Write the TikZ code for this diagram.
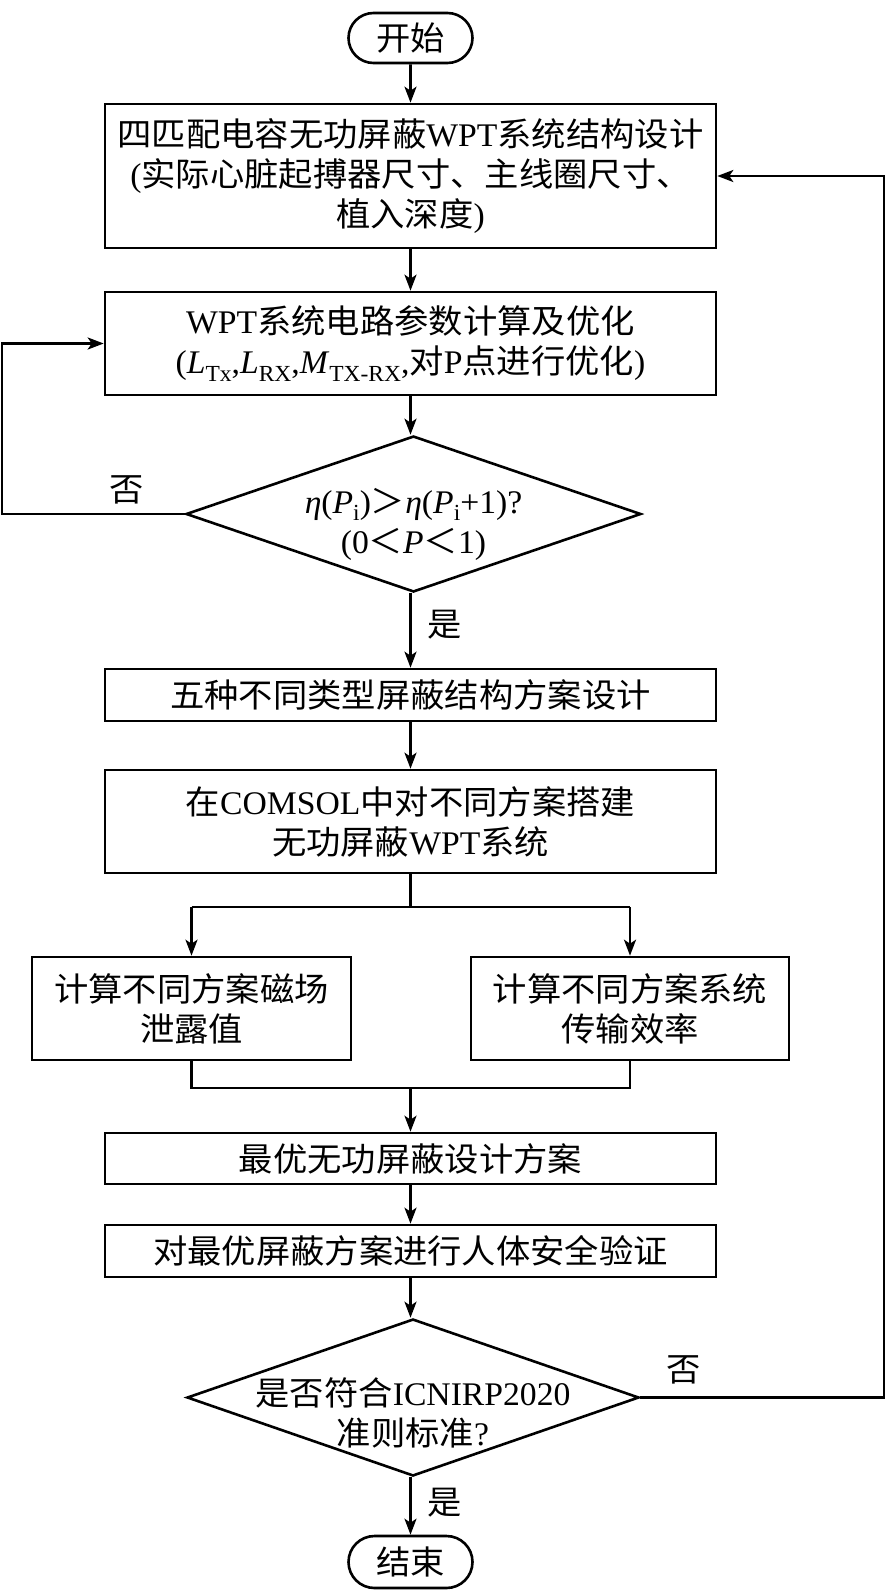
\documentclass[tikz,border=0pt]{standalone}
\usepackage{fontspec}
\setmainfont[FakeStretch=1.02]{Liberation Serif}
\newfontfamily\cjk[FakeStretch=1.04]{Noto Sans CJK SC}
\usetikzlibrary{shapes.geometric,shapes.misc,arrows.meta}
\newcommand\zh[1]{{\cjk #1}}
\newcommand\sbs[1]{\raisebox{-0.22em}{\fontsize{23}{23}\selectfont #1}}
\begin{document}
\begin{tikzpicture}[x=1pt,y=-1pt,
  every node/.style={font=\fontsize{33}{40}\selectfont, inner sep=0pt},
  proc/.style={draw, line width=2.6pt, rectangle, align=center, minimum width=611pt},
  term/.style={draw, line width=2.6pt, rounded rectangle, minimum width=124pt, minimum height=50pt},
  decis/.style={draw, line width=2.6pt, diamond, inner sep=0pt},
  lbl/.style={align=center},
  conn/.style={line width=2.6pt, -{Stealth[length=16pt,width=12pt,inset=4pt]}},
  plain/.style={line width=2.6pt}
]
\useasboundingbox (0,0) rectangle (887,1595);

\node[term] (start) at (410.5,38) {\zh{开始}};
\node[proc, minimum height=144pt] (b1) at (410.5,176)
  {\zh{四匹配电容无功屏蔽}WPT\zh{系统结构设计}\\(\zh{实际心脏起搏器尺寸、主线圈尺寸、}\\\zh{植入深度})};
\node[proc, minimum height=103pt] (b2) at (410.5,343.5)
  {WPT\zh{系统电路参数计算及优化}\\(\textit{L}\sbs{Tx},\textit{L}\sbs{RX},\textit{M}\sbs{TX-RX},\zh{对}P\zh{点进行优化})};
\node[decis, minimum width=455pt, minimum height=156pt] (d1) at (413.5,514) {};
\node[lbl] (d1t) at (413.5,524)
  {\textit{η}(\textit{P}\sbs{i})\zh{＞}\textit{η}(\textit{P}\sbs{i}+1)?\\(0\zh{＜}\textit{P}\zh{＜}1)};
\node[proc, minimum height=52pt] (b3) at (410.5,695) {\zh{五种不同类型屏蔽结构方案设计}};
\node[proc, minimum height=103pt] (b4) at (410.5,821.5)
  {\zh{在}COMSOL\zh{中对不同方案搭建}\\\zh{无功屏蔽}WPT\zh{系统}};
\node[proc, minimum width=319pt, minimum height=103pt] (b5l) at (191.5,1008.5)
  {\zh{计算不同方案磁场}\\\zh{泄露值}};
\node[proc, minimum width=318pt, minimum height=103pt] (b5r) at (630,1008.5)
  {\zh{计算不同方案系统}\\\zh{传输效率}};
\node[proc, minimum height=51pt] (b6) at (410.5,1158.5) {\zh{最优无功屏蔽设计方案}};
\node[proc, minimum height=52pt] (b7) at (410.5,1251) {\zh{对最优屏蔽方案进行人体安全验证}};
\node[decis, minimum width=452pt, minimum height=157pt] (d2) at (413,1397.5) {};
\node[lbl] (d2t) at (413,1413) {\zh{是否符合}ICNIRP2020\\\zh{准则标准}?};
\node[term, minimum height=52pt] (end) at (410.5,1562) {\zh{结束}};

\node (no1) at (127,490) {\zh{否}};
\node (yes1) at (445,625) {\zh{是}};
\node (no2) at (684,1370) {\zh{否}};
\node (yes2) at (445,1503) {\zh{是}};

\coordinate (split) at (410.5,907);
\coordinate (splitl) at (191.5,907);
\coordinate (splitr) at (630,907);
\coordinate (merge) at (410.5,1088);
\coordinate (mergel) at (191.5,1088);
\coordinate (merger) at (630,1088);
\coordinate (lpa) at (2,514);
\coordinate (lpb) at (2,343.5);
\coordinate (rpa) at (884,1397.5);
\coordinate (rpb) at (884,176);

\draw[conn] (start) -- (b1);
\draw[conn] (b1) -- (b2);
\draw[conn] (b2.south) -- (b2.south |- d1.north);
\draw[conn] (d1.south -| b3.north) -- (b3.north);
\draw[conn] (b3) -- (b4);
\draw[plain] (b4.south) -- (split);
\draw[plain] (splitl) -- (splitr);
\draw[conn] (splitl) -- (b5l.north);
\draw[conn] (splitr) -- (b5r.north);
\draw[plain] (b5l.south) -- (mergel) -- (merger) -- (b5r.south);
\draw[conn] (merge) -- (b6.north);
\draw[conn] (b6) -- (b7);
\draw[conn] (b7.south) -- (b7.south |- d2.north);
\draw[conn] (d2.south -| end.north) -- (end.north);
\draw[conn] (d1.west) -- (lpa) -- (lpb) -- (b2.west);
\draw[conn] (d2.east) -- (rpa) -- (rpb) -- (b1.east);
\end{tikzpicture}
\end{document}
